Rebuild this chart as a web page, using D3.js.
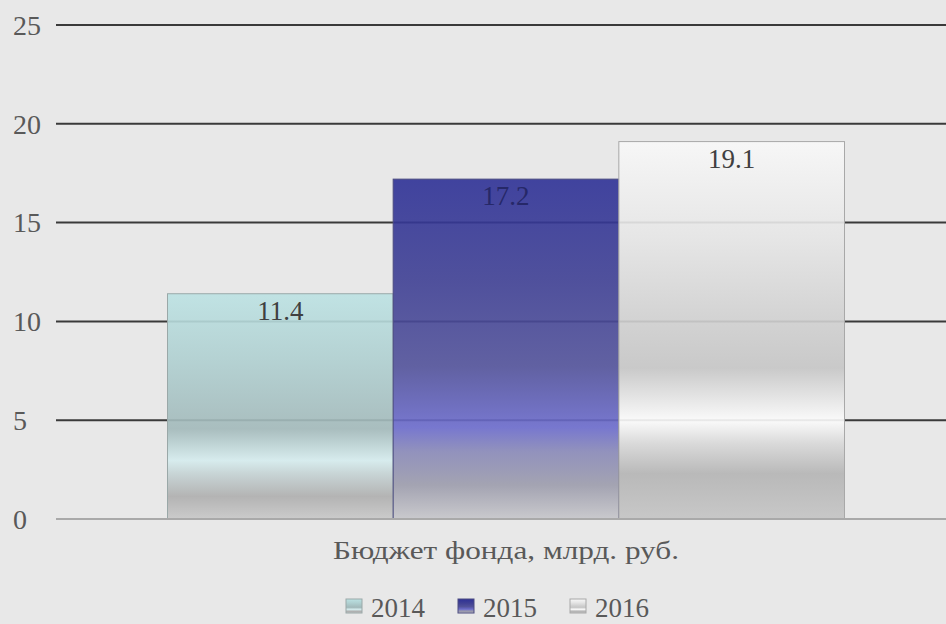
<!DOCTYPE html>
<html><head><meta charset="utf-8">
<script src="https://cdn.jsdelivr.net/npm/d3@7"></script>
<style>html,body{margin:0;padding:0;background:#e8e8e8;overflow:hidden}
text{font-family:"Liberation Serif","DejaVu Serif",serif}</style>
</head><body>
<svg id="c" width="946" height="624"></svg>
<script>
const categories = ["Бюджет фонда, млрд. руб."];
const seriesNames = ["2014", "2015", "2016"];
const values = [11.4, 17.2, 19.1];
const yTicks = [0, 5, 10, 15, 20, 25];

(function () {
const svg = d3.select("#c");
const W = 946, H = 624;
const mLeft = 56, mRight = 956, mTop = 25, mBottom = 519;

svg.append("rect").attr("width", W).attr("height", H).attr("fill", "#e8e8e8");

const y = d3.scaleLinear().domain([0, 25]).range([mBottom, mTop]);
const x0 = d3.scaleBand().domain(categories).range([mLeft, mRight]).paddingInner(0).paddingOuter(0.1647);
const x1 = d3.scaleBand().domain(seriesNames).range([0, x0.bandwidth()]).padding(0);

const defs = svg.append("defs");
const gradStops = {
  "2014": [[0,"#bce2e3"],[0.3,"#afcfd0"],[0.6,"#a2b9ba"],[0.74,"#d5ecee"],[0.8,"#c4d2d3"],[0.9,"#aeaeae"],[1,"#c8c8c8"]],
  "2015": [[0,"#2e3196"],[0.3,"#3f4094"],[0.55,"#52529a"],[0.73,"#6b6bcc"],[0.8,"#8888b8"],[0.9,"#9c9cac"],[1,"#c6c6ca"]],
  "2016": [[0,"#f8f8f8"],[0.25,"#e6e6e6"],[0.5,"#cecece"],[0.6,"#c6c6c6"],[0.74,"#fcfcfc"],[0.8,"#d8d8d8"],[0.88,"#b4b4b4"],[1,"#c4c4c4"]]
};
seriesNames.forEach(s => {
  const g = defs.append("linearGradient").attr("id", "g" + s)
    .attr("x1", 0).attr("y1", 0).attr("x2", 0).attr("y2", 1);
  gradStops[s].forEach(st => g.append("stop").attr("offset", st[0]).attr("stop-color", st[1]));
});
const strokeCol = {"2014": "#9aa8a8", "2015": "#4a4a80", "2016": "#a8a8a8"};

svg.append("g").selectAll("line").data(yTicks.filter(t => t > 0)).join("line")
  .attr("x1", mLeft).attr("x2", mRight)
  .attr("y1", d => y(d)).attr("y2", d => y(d))
  .attr("stroke", "#3a3a3a").attr("stroke-width", 2);

svg.append("g").selectAll("text").data(yTicks).join("text")
  .attr("x", 13).attr("y", d => y(d)).attr("dy", "0.35em")
  .attr("font-size", 28).attr("fill", "#595959")
  .text(d => d);

const cat = categories[0];
const data = seriesNames.map((s, i) => ({s, v: values[i]}));
const bars = svg.append("g").attr("transform", `translate(${x0(cat)},0)`);
bars.selectAll("rect").data(data).join("rect")
  .attr("x", d => x1(d.s)).attr("width", x1.bandwidth())
  .attr("y", d => y(d.v)).attr("height", d => y(0) - y(d.v))
  .attr("fill", d => `url(#g${d.s})`).attr("fill-opacity", 0.9)
  .attr("stroke", d => strokeCol[d.s]).attr("stroke-width", 1);

svg.append("line").attr("x1", mLeft).attr("x2", mRight).attr("y1", y(0)).attr("y2", y(0))
  .attr("stroke", "#a9a9a9").attr("stroke-width", 2);

bars.selectAll("text").data(data).join("text")
  .attr("x", d => x1(d.s) + x1.bandwidth() / 2).attr("y", d => y(d.v) + 26)
  .attr("text-anchor", "middle").attr("font-size", 27)
  .attr("fill", d => d.s === "2015" ? "#262868" : "#404040")
  .text(d => d.v.toFixed(1));

svg.append("text").attr("x", x0(cat) + x0.bandwidth() / 2).attr("y", 559)
  .attr("text-anchor", "middle").attr("font-size", 26)
  .attr("textLength", 346).attr("lengthAdjust", "spacingAndGlyphs")
  .attr("fill", "#595959").text(cat);

const legend = svg.append("g");
const lx = d3.scaleBand().domain(seriesNames).range([346, 682]);
seriesNames.forEach(s => {
  const gx = lx(s);
  legend.append("rect").attr("x", gx).attr("y", 599).attr("width", 16).attr("height", 14)
    .attr("fill", `url(#g${s})`).attr("stroke", strokeCol[s]).attr("stroke-width", 1);
  legend.append("text").attr("x", gx + 25).attr("y", 617)
    .attr("font-size", 27).attr("fill", "#595959").text(s);
});
})();
</script>
</body></html>
